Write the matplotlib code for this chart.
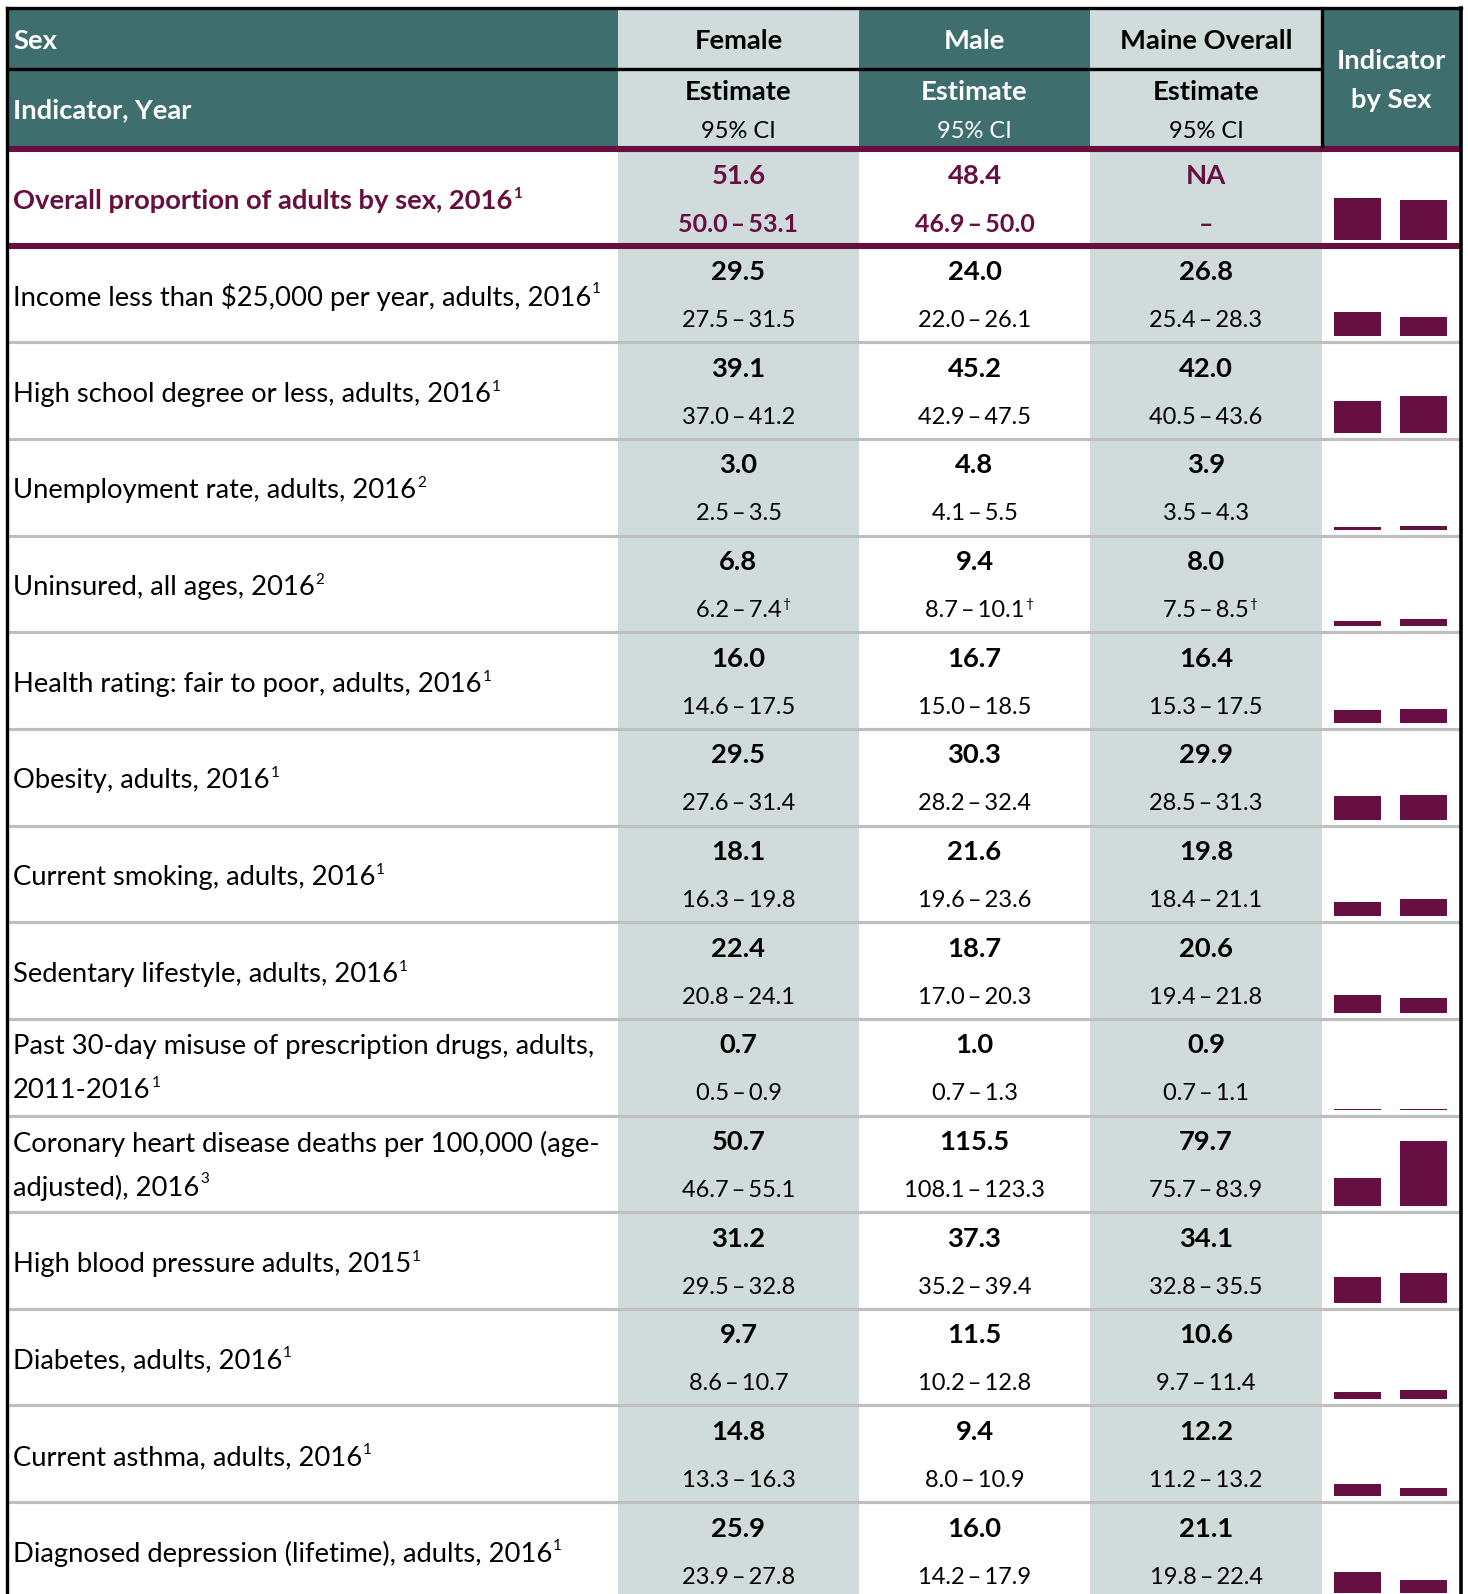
import matplotlib
matplotlib.use("Agg")
import matplotlib.pyplot as plt
from matplotlib.patches import Rectangle

plt.rcParams['font.family'] = ['Lato', 'DejaVu Sans']

# ---- data ----
labels = [
    ["Overall proportion of adults by sex, 2016"],
    ["Income less than $25,000 per year, adults, 2016"],
    ["High school degree or less, adults, 2016"],
    ["Unemployment rate, adults, 2016"],
    ["Uninsured, all ages, 2016"],
    ["Health rating: fair to poor, adults, 2016"],
    ["Obesity, adults, 2016"],
    ["Current smoking, adults, 2016"],
    ["Sedentary lifestyle, adults, 2016"],
    ["Past 30-day misuse of prescription drugs, adults,", "2011-2016"],
    ["Coronary heart disease deaths per 100,000 (age-", "adjusted), 2016"],
    ["High blood pressure adults, 2015"],
    ["Diabetes, adults, 2016"],
    ["Current asthma, adults, 2016"],
    ["Diagnosed depression (lifetime), adults, 2016"],
]
sups = ["1", "1", "1", "2", "2", "1", "1", "1", "1", "1", "3", "1", "1", "1", "1"]

female_est = [51.6, 29.5, 39.1, 3.0, 6.8, 16.0, 29.5, 18.1, 22.4, 0.7, 50.7, 31.2, 9.7, 14.8, 25.9]
female_lo = [50.0, 27.5, 37.0, 2.5, 6.2, 14.6, 27.6, 16.3, 20.8, 0.5, 46.7, 29.5, 8.6, 13.3, 23.9]
female_hi = [53.1, 31.5, 41.2, 3.5, 7.4, 17.5, 31.4, 19.8, 24.1, 0.9, 55.1, 32.8, 10.7, 16.3, 27.8]

male_est = [48.4, 24.0, 45.2, 4.8, 9.4, 16.7, 30.3, 21.6, 18.7, 1.0, 115.5, 37.3, 11.5, 9.4, 16.0]
male_lo = [46.9, 22.0, 42.9, 4.1, 8.7, 15.0, 28.2, 19.6, 17.0, 0.7, 108.1, 35.2, 10.2, 8.0, 14.2]
male_hi = [50.0, 26.1, 47.5, 5.5, 10.1, 18.5, 32.4, 23.6, 20.3, 1.3, 123.3, 39.4, 12.8, 10.9, 17.9]

maine_est = [None, 26.8, 42.0, 3.9, 8.0, 16.4, 29.9, 19.8, 20.6, 0.9, 79.7, 34.1, 10.6, 12.2, 21.1]
maine_lo = [None, 25.4, 40.5, 3.5, 7.5, 15.3, 28.5, 18.4, 19.4, 0.7, 75.7, 32.8, 9.7, 11.2, 19.8]
maine_hi = [None, 28.3, 43.6, 4.3, 8.5, 17.5, 31.3, 21.1, 21.8, 1.1, 83.9, 35.5, 11.4, 13.2, 22.4]

dagger_rows = [4]
col_names = ["Female", "Male", "Maine Overall"]

# ---- style ----
TEAL = "#3e6e6e"
LIGHT = "#d0dcdc"
MAROON = "#660f40"
GRAY = "#bfbfbf"

W, H = 1468, 1594
fig = plt.figure(figsize=(W / 100, H / 100), dpi=100)
ax = fig.add_axes([0, 0, 1, 1])
ax.set_xlim(0, W)
ax.set_ylim(H, 0)
ax.axis("off")

xl, xf, xm, xo, xi, xr = 7, 618, 859, 1090, 1322, 1461
top, hmid, hbot = 8, 69, 149
pitch = 96.65

def rect(x0, y0, x1, y1, c):
    ax.add_patch(Rectangle((x0, y0), x1 - x0, y1 - y0, facecolor=c, edgecolor="none", zorder=1))

# header backgrounds
rect(xl, top, xf, hbot, TEAL)
rect(xf, top, xm, hbot, LIGHT)
rect(xm, top, xo, hbot, TEAL)
rect(xo, top, xi, hbot, LIGHT)
rect(xi, top, xr, hbot, TEAL)
# body column shading
rect(xf, hbot, xm, H + 5, LIGHT)
rect(xo, hbot, xi, H + 5, LIGHT)

FS = 19.7
FS_CI = 17
FS_SUP = 11

# header text
ax.text(xl + 6, 41, "Sex", color="white", fontsize=FS, fontweight="bold", va="center", ha="left", zorder=3)
ax.text(xl + 6, 110, "Indicator, Year", color="white", fontsize=FS, fontweight="bold", va="center", ha="left", zorder=3)
col_x = [(xf + xm) / 2, (xm + xo) / 2, (xo + xi) / 2]
head_col = ["black", "white", "black"]
for cx, nm, tc in zip(col_x, col_names, head_col):
    ax.text(cx, 41, nm, color=tc, fontsize=FS, fontweight="bold", va="center", ha="center", zorder=3)
    ax.text(cx, 92, "Estimate", color=tc, fontsize=FS, fontweight="bold", va="center", ha="center", zorder=3)
    ax.text(cx, 131, "95% CI", color=tc, fontsize=FS_CI, va="center", ha="center", zorder=3)
ax.text((xi + xr) / 2, 61, "Indicator", color="white", fontsize=FS, fontweight="bold", va="center", ha="center", zorder=3)
ax.text((xi + xr) / 2, 100, "by Sex", color="white", fontsize=FS, fontweight="bold", va="center", ha="center", zorder=3)

def fmt_ci(lo, hi):
    if lo is None:
        return "\u2013"
    return f"{lo:.1f}\u2009\u2013\u2009{hi:.1f}"

def fmt_est(v):
    return "NA" if v is None else f"{v:.1f}"

def sup_after(t, s, color, weight, size):
    ax.annotate(s, xy=(1, 1), xycoords=t, xytext=(0.5, 1.5), textcoords="offset points",
                fontsize=size, color=color, fontweight=weight, va="top", ha="left", zorder=3)

n = len(labels)
for i in range(n):
    y0 = hbot + i * pitch
    y1 = y0 + pitch
    overall = i == 0
    tc = MAROON if overall else "black"
    lw = "bold" if overall else "normal"

    # label
    if len(labels[i]) == 1:
        t = ax.text(xl + 6, y0 + 52, labels[i][0], color=tc, fontsize=FS, fontweight=lw, va="center", ha="left", zorder=3)
    else:
        ax.text(xl + 6, y0 + 28, labels[i][0], color=tc, fontsize=FS, fontweight=lw, va="center", ha="left", zorder=3)
        t = ax.text(xl + 6, y0 + 72, labels[i][1], color=tc, fontsize=FS, fontweight=lw, va="center", ha="left", zorder=3)
    sup_after(t, sups[i], tc, lw, FS_SUP)

    ests = [female_est[i], male_est[i], maine_est[i]]
    cis = [fmt_ci(female_lo[i], female_hi[i]), fmt_ci(male_lo[i], male_hi[i]), fmt_ci(maine_lo[i], maine_hi[i])]
    for cx, e, c in zip(col_x, ests, cis):
        ax.text(cx, y0 + 26.5, fmt_est(e), color=tc, fontsize=FS, fontweight="bold", va="center", ha="center", zorder=3)
        tci = ax.text(cx, y0 + 75, c, color=tc, fontsize=FS_CI + (1 if overall else 0), fontweight=lw,
                      va="center", ha="center", zorder=3)
        if i in dagger_rows:
            sup_after(tci, "\u2020", tc, "normal", 10)

    # sparkline bars
    base = y1 - 6
    hgt = 86
    ymax = 153 if i == 10 else 106
    bx = fig.add_axes([xi / W, 1 - base / H, (xr - xi) / W, hgt / H])
    bx.bar([0, 1], [female_est[i], male_est[i]], width=0.71, color=MAROON)
    bx.set_xlim(-0.538, 1.568)
    bx.set_ylim(0, ymax)
    bx.axis("off")

    # row separator
    if i >= 1:
        ax.plot([xl, xr], [y1, y1], color=GRAY, lw=2.3, zorder=2, solid_capstyle="butt")

# maroon rules around overall row
ax.plot([xl, xr], [hbot, hbot], color=MAROON, lw=4.4, zorder=2.5, solid_capstyle="butt")
ax.plot([xl, xr], [hbot + pitch, hbot + pitch], color=MAROON, lw=4.4, zorder=2.5, solid_capstyle="butt")

# black borders
ax.plot([xl, xr], [top, top], color="black", lw=2.4, zorder=4, solid_capstyle="projecting")
ax.plot([xl, xi], [hmid, hmid], color="black", lw=2.4, zorder=4, solid_capstyle="butt")
ax.plot([xi, xi], [top, hbot - 3], color="black", lw=2.4, zorder=4)
ax.plot([xl, xl], [top, H + 5], color="black", lw=2.4, zorder=4)
ax.plot([xr, xr], [top, H + 5], color="black", lw=2.6, zorder=4)

fig.savefig("out.png", dpi=100)
